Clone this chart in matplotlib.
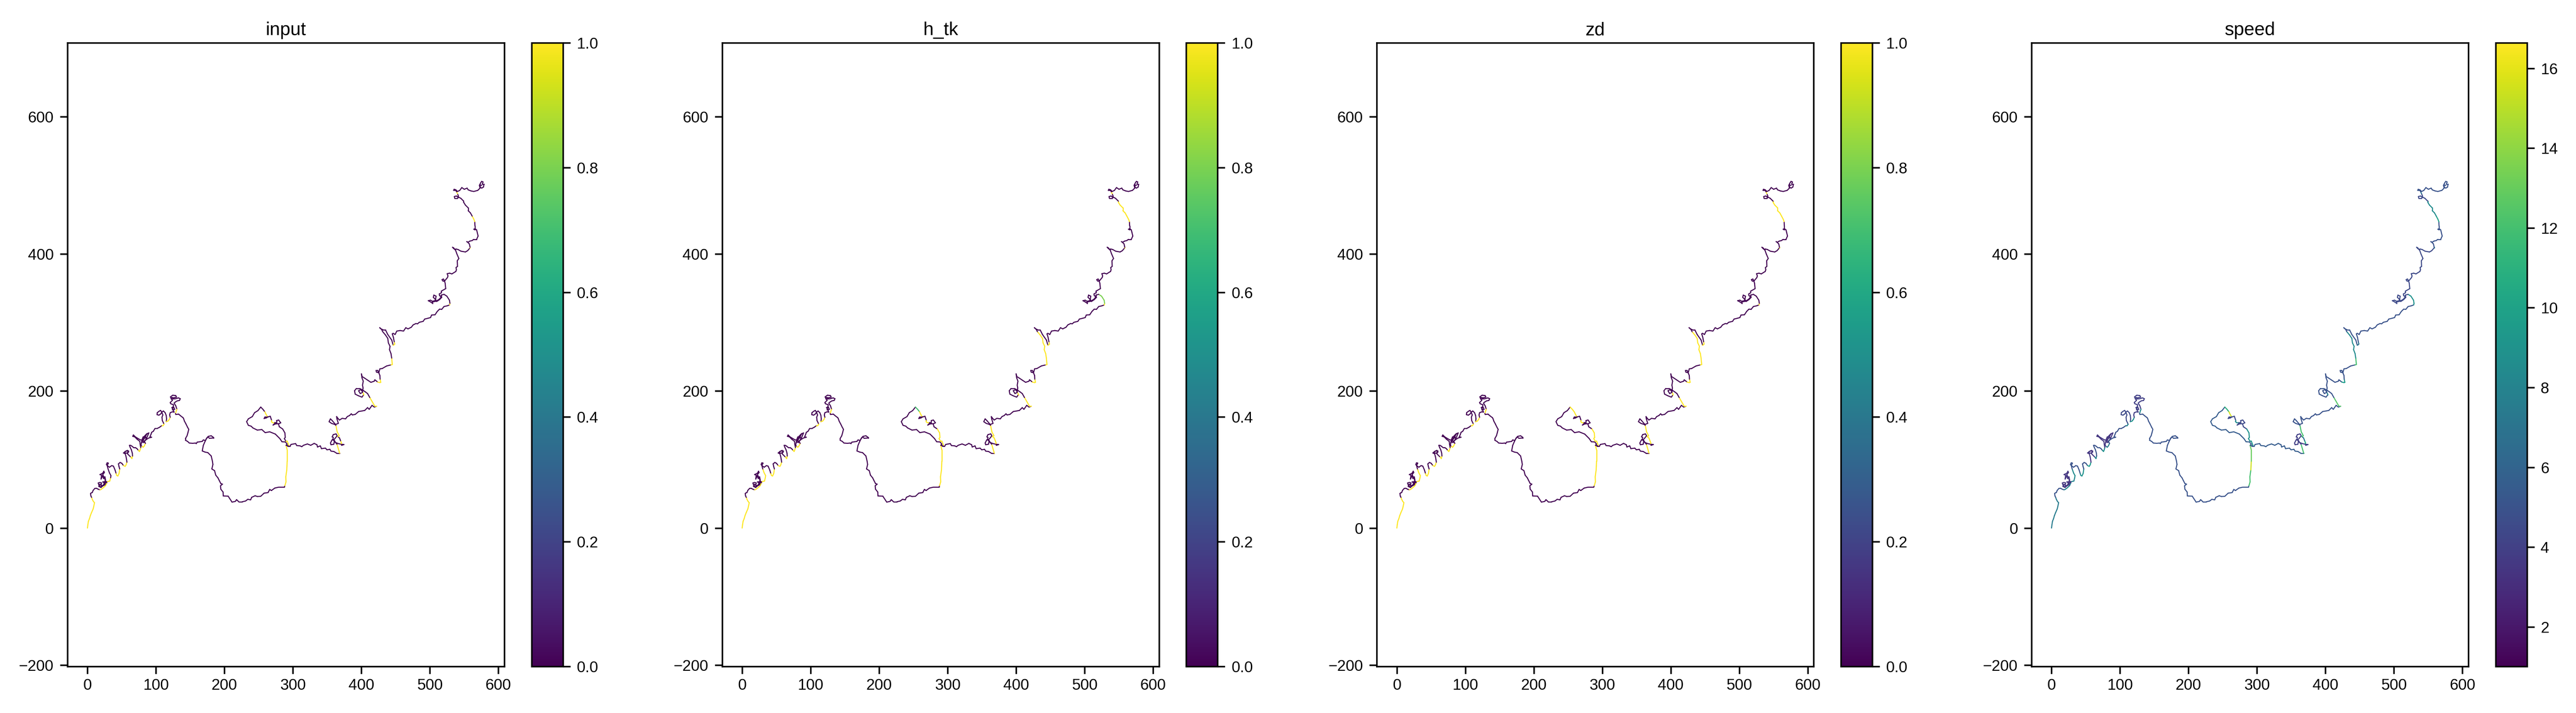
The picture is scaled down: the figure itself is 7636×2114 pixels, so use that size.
#!/usr/bin/env python3
"""Track coloured by signal: input, h_tk, zd flags and speed, one panel each."""

import matplotlib
matplotlib.use("Agg")
import matplotlib.pyplot as plt
import numpy as np
from matplotlib.collections import LineCollection

plt.rcParams["font.family"] = ["Liberation Sans", "DejaVu Sans"]

# Track, cut into stretches where any signal changes level.
stretch_xy = [
    # 0
    [(0,0),(0.6,4.9),(1.4,9.9),(2.9,13.6),(4.2,18.1),(5.8,22.2),(8.3,27.9),(9.1,31.2),(10.3,36.9),(8.6,38.9),(7.0,41.9),(6.0,44.8)],
    [(5.0,46.8),(4.5,50.4),(5.8,51.4),(7,51.7),(8.3,55),(10.8,57.8),(13.2,58),(15.7,56.6),(18.2,55.8)],
    [(19.8,56.3),(23.1,58.8),(26.4,61.9),(28.3,66.2)],
    [(26.4,67.3),(22.3,61.6),(19,59.9),(16.5,63.2),(15.7,65.7),(18.2,66.5),(20.6,65.7),(19.8,62.4),(23.1,62.4),(24.7,65.7),(22.3,67.3),(27.2,67.8),(25.5,63.2),(21.4,60.8),(18.2,64),(16.5,60.8),(19.8,59.1),(23.9,63.2),(26.4,69.8),(25.5,74.7),(23.4,72.2),(22.3,76.4),(19.8,71.4),(20.6,77.2),(18.2,78),(22.3,80),(23.9,82.9),(24.7,81),(22.3,78),(25.5,71.4),(26.4,67.3),(29.2,67.8)],
    [(30.5,68.1),(32.6,68.5),(33.8,73.4)],
    # 5
    [(34.3,76.4),(32.1,80.5),(30.1,86.2)],
    [(28.8,91.1),(27.7,92.8),(28.8,95.2),(30.5,94.7),(28.8,91.1),(32.1,88.7),(35.4,91.1),(37.9,90.3),(40.3,84.6),(41.9,79.3)],
    [(42.8,76.7),(44.4,75.9),(46.1,79.6),(47.1,86.2)],
    [(46.1,89.5),(45.2,93.6),(47.7,95.7),(50.2,94.4),(52.6,91.1)],
    [(55.1,90),(56.3,92),(57.6,96.1)],
    # 10
    [(57.2,99.3),(56.3,104.3),(55.1,108.4),(52.6,109.5),(55.1,111.7),(58.4,113.3),(60,110.8),(56.7,109.2),(53.5,110),(56.7,112.5),(60,112.5),(58.4,108.4),(60,106.7),(63.3,103.4)],
    [(64.9,101.3),(65.8,105.1)],
    [(65.5,109.2),(64.1,114.1),(62.5,117.4),(61.2,120.7),(62.8,120.7),(65,119.4),(67.4,117.4),(69.9,117.4),(72.3,115.8),(74.3,113.3)],
    [(75.9,111.7),(76.9,114.1),(77.8,117.4)],
    [(76.9,122.3),(76.5,126.4),(72.3,129.7),(69.1,133),(66.1,133.8),(67.1,135.8),(69.9,133),(74,130.5),(77.3,128.6),(80.6,128.1),(83.9,132.2),(81.3,133),(79.7,128.9),(82.2,126.4),(85.5,128.9),(89.6,138.8),(86.3,137.1),(83,133.8),(80.6,130.5),(78.9,125.6),(82.2,124.8),(85.5,129.7),(84.7,135.5),(87.1,137.9),(83,130.5),(78.9,124.8),(78.1,120.7),(79.7,119)],
    # 15
    [(81.4,117.9),(83,119.9),(84.7,123.5)],
    [(83,126.4),(85.5,128.9),(89.6,131.4),(93.7,132.5),(91.2,133),(92.9,137.1),(93.7,139.6),(96.2,141.2),(98.6,145.3),(101.9,145.3),(105.2,147),(108.5,149.4)],
    [(110.1,149.4),(111.8,151.1),(111.3,152.7)],
    [(109.3,156.8),(108.8,161.7),(110.1,165),(108.5,169.1),(106.8,171.6),(104.4,170.3),(101.9,168.3),(101.6,165.4),(104.4,164.7),(107.2,166.7),(108.5,169.1),(110.9,170.8),(113.4,168.3),(115,164.2),(115.5,159.3),(115,155.2)],
    [(117.5,156),(119.5,158.5),(120.8,161.7)],
    # 20
    [(120,165),(120.8,168.3),(124.1,169.6),(126.5,169.1),(124.9,173.2),(123.2,175.7),(125.7,176.8),(127.4,173.2),(124.1,172.4),(125.7,179.8),(121.6,181.4),(120.8,183.1),(124.1,186.4),(122.4,188.3),(121.2,191.4),(124.5,193.8),(128.9,193.3),(130,191),(126,190),(123,190.5),(124.5,188.4),(128,188.5),(132.9,189.9),(135.5,188.7),(134.4,186.2),(131,185.5),(128.5,184),(126.5,182.3),(129,178.2),(130.6,173.2)],
    [(129.8,171.3),(128.5,167)],
    [(129,165.7),(133.1,166.2),(136.4,163.4),(139.7,160.9),(140.5,159.3),(141.6,156),(143.8,151.9),(146.2,147),(147.9,144),(146.6,138.8),(145.4,134.6),(143,130.5),(143,128.1),(146.2,126.4),(148.7,124),(153.6,123.6),(157.7,124),(158.9,123.2),(160.2,125.3),(164.3,125.9),(167.6,126.4),(169.2,128.6),(172.2,127.6),(174.2,131.4),(176.6,133.8),(180.7,134.6),(184,132.2),(184,131.4),(178.2,130.9),(175.8,133),(173.3,129.7),(171.7,126.4),(169.2,120.7),(167.6,112.5),(171.7,110.8),(175.8,110),(180.7,105.1),(182.4,97.7),(183.2,92.8),(181.6,86.2),(185.6,83.7),(187.3,77.2),(190.6,73.1),(192.2,69.8),(194.7,64.9),(197.1,64),(194.2,61.6),(194.7,56.7),(198,52.5),(198.3,46.8),(205.4,46.5),(211.1,37.8),(216,38.9),(217.7,41.4),(221,38.3),(225.9,38.3),(230.8,39.4),(234.1,41.9),(238.2,41.1),(239.8,44.8),(244.8,47.1),(248,46),(253,46.3),(257.9,50.9),(263.7,51.7),(266.1,56.3),(268.6,54.7),(273.5,58.3),(279.2,59.6),(287.5,59.6),(288.3,61.9)],
    [(289.9,67.3),(289.6,74.7),(291,84.6)],
    [(291.3,90.5),(291.6,97.7)],
    # 25
    [(291.6,114.1),(289.9,120.7)],
    [(291.6,122.3),(289.1,125.6),(284,125.9),(280.9,130.5),(276.8,134.6),(274.3,137.1),(266.1,140.4),(259.5,139.2),(254.6,143.7),(248,142.9),(241.5,146.1),(239,148.6),(234.9,149.9),(232.4,155.2),(234.9,159.3),(240.7,162.6),(244,168.3),(248.9,171.3),(253,176.5)],
    [(256.2,173.2),(259,169.6)],
    [(261.2,165),(263.3,162.1)],
    [(261.2,160.7),(257.9,159.8),(259.2,162.1),(263.3,162.1),(266.9,163.1),(269,156.8)],
    # 30
    [(268.6,155.2),(270.2,153.9),(273.5,153.9)],
    [(276,153.5),(276,156.8),(279.2,157.6),(282.2,153.5),(279.2,152.2),(274.3,151.9),(271,150.2),(273.5,152.7),(279,151.9),(280.1,147.8),(285,144.5)],
    [(288.3,138.8),(288.8,132.2),(287.5,130.5),(289.9,126.4)],
    [(291.6,126.9),(294,120.7),(293.2,119.9)],
    [(290.8,120.7),(292.4,119.4),(295.7,119.4),(297.3,122),(303.9,123.2),(305.5,120.4),(310.4,119.9),(312.9,118.7),(315.4,120.7),(321.1,122.7),(326,120.7),(331,123.5),(335.1,121.5),(335.9,118.2),(340,119.9),(341.7,115.8),(347.4,116.6),(349.8,114.1),(353.9,114.9),(355.6,112.2),(359.7,111.7),(363.8,109.2),(368.2,109.2)],
    # 35
    [(364.3,122.3)],
    [(362.2,124.8),(359.7,128.9),(357.3,128.9),(354.8,124),(355.6,121.5),(359.7,122.3),(360.5,126.4),(358.4,129.7),(358.9,132.2),(357.3,133),(358.9,136.3),(363,137.4),(364.6,134.6),(361.3,130.5),(359.7,128.9),(362.2,124.8),(366.3,123.2),(370.4,122.3),(374.5,121.8),(371.2,120.7),(370.4,123.2)],
    [(370.9,124),(369.6,127.3)],
    [(368,131.4),(365.4,133.5)],
    [(367.6,134.6),(364.6,140.4),(362.7,149.9)],
    # 40
    [(361.3,151.1),(356.4,152.7),(352.8,155.2),(354.8,159.3),(357.3,156.8),(362.2,151.1),(366.3,152.7),(364.3,159.3),(363.8,162.6),(366.3,159.3),(368,157.6),(372,160.1),(376.9,159.3),(379.4,162.6),(382.7,164.2),(385.2,166.7),(386.8,165),(391,165.8),(395.9,170),(400.8,170.8),(404.9,171.6),(409,175.7),(411.4,173.2),(415.5,179),(418.8,176.5),(422.1,177.7)],
    [(419.6,177.7),(412.2,190.5)],
    [(409,196.2),(405.7,198.7),(401.6,201.5),(397.5,203.6),(392.6,203.6),(390,200.3),(390.9,195.4),(395.9,192.9),(400.8,191),(403.2,194.3)],
    [(403.2,195.4),(401.6,198.7)],
    [(399.1,202),(395.9,200.3),(398.3,196.2),(401.6,197.9),(402.4,204.4),(401.6,208.5),(402.7,214.3),(400.8,219.2),(400,225),(401.1,220.9),(404,219.2),(408.9,215.9),(413.9,212.6),(418.8,214.3),(419.6,216.3),(423.8,213)],
    # 45
    [(427,212.2),(428.3,212.6),(427.3,217.2)],
    [(427,222.5),(425.4,226.6),(422.1,227.4),(421.3,229.9),(423.8,229.9),(425.4,226.6),(427,232.3),(430.3,232.7),(436.9,236.5),(443.4,238.1)],
    [(445.1,238.6),(444.2,248)],
    [(443.2,254.5),(441,260.3),(441.8,265.2),(439.4,270.1),(438.5,276.7),(435.2,281.6),(431.1,286.5)],
    [(429.5,289.8),(426.7,292.3),(428.7,290.6),(432,289),(435.2,289),(438.5,282.4),(444.3,274.2),(446.4,266.8)],
    # 50
    [(447.5,267.2),(448.7,268.5),(447.9,271.8)],
    [(446.7,278.3),(445.1,283.3),(446.4,284.1),(449.2,282.4),(451.7,287.4),(456.6,288.2),(461.5,287.4),(464.8,292.3),(468.1,290.6),(473,293.1),(475.5,296.4),(479.6,298.4),(482,298),(484.5,300.2),(490.2,301.6),(492.4,304.9),(497.6,306.2),(500.9,307.1),(502.5,310.8),(507.5,311.2),(510.8,316.1),(514.1,319.4),(517.3,319.1),(520.6,323.2),(525.5,324.3),(528.8,325.6)],
    [(529.3,327.9)],
    [(528.5,332.5),(524.8,338.3),(520.6,341)],
    [(516.5,339.9),(516.8,338.8),(517.3,336.6),(514.1,333.3),(510,330.6),(508.3,333.4),(505,336.6),(505.8,339.9),(509.1,338.3),(508.3,334.2),(507.5,331.7),(503.4,330.9),(500.9,332.5),(497.6,331.7),(500.9,330),(504.2,327.6),(503.8,330),(509.1,330.9),(514.1,334.2),(516.5,337.4),(514.1,339.1),(513.7,341.5),(516.5,343.2),(516.5,345.6),(523.1,349.3),(522.3,357.1),(521.4,360.4),(519,360.4),(517.7,362.4),(519.8,363.4),(521.4,360.4),(525.6,365.4),(526.4,367.8),(525.2,371.1),(528.8,371.9),(532.1,370.8),(537.9,374.4),(538.7,376.8),(538.2,380.1),(540.3,381.8),(540,390),(542.3,393.3),(539.5,399.8),(537.4,405.6),(534.6,408),(533,409.7),(534.6,408.9),(537.4,405.6),(537.9,407.2),(541.1,406.4),(545.3,404),(551.8,402.8),(555.1,404.7),(558.7,408.9)],
    # 55
    [(558.7,409.7)],
    [(557.6,414.6),(555.1,417.1),(553.8,417.9),(555.9,417.1),(558.4,418.7),(561.7,419.5),(564,421.2),(568.2,421.2),(570.4,426.1),(569,431.9),(568.2,435.1),(565.8,436.8),(564.1,436),(565.8,435.1),(565.8,440.9),(565.5,447.1)],
    [(564.1,450.7),(561.7,455.2)],
    [(559.2,459.8),(555.9,463.1),(555.9,467.2),(551.8,471.3),(549.3,475.4),(549.3,477)],
    [(545.2,481.1),(541.9,482.8),(540.3,481.1),(536.2,481.1),(535.7,483.7),(538.7,484.5),(541.1,482.8),(541.6,484.5),(540.3,487.8)],
    # 60
    [(539,490.6)],
    [(537.9,492.7),(534.6,492.7),(535.4,494.3),(537.9,493.5),(540.3,491.1),(543.6,492.7),(546.6,496.8),(550.2,494.3),(554.3,496),(555.9,493.5),(560,491.9),(564.1,491.1),(569.9,492.7),(573.2,496),(572.3,500.1),(574,503.4),(575.6,505.8),(577.6,505),(576.5,501.6),(579,501.6),(578.2,497.5),(575.6,496),(573.2,497.5),(573.2,500.8),(575.6,500)],
]

# One level per stretch
input_level = [1,0,1,0,1, 0,0,1,0,1, 0,1,0,1,0, 1,0,1,0,1, 0,1,0,1,1, 1,0,0,1,0, 1,0,0,1,0,
               1,0,1,0,1, 0,1,0,1,0, 1,0,1,0,0, 1,0,1,0,0, 1,0,1,0,0, 1,0]
h_tk_level  = [1,0,1,0,1, 1,0,1,0,1, 0,1,0,1,0, 1,0,1,0,1, 0,1,0,1,1, 1,0,0.7,1,0, 1,0,1,1,0,
               1,0,1,1,1, 0,1,0,1,0, 1,0,1,1,0, 1,0,1,0.8,0, 1,0,1,1,0, 1,0]
zd_level    = [1,0,1,0,1, 1,0,1,0,1, 0,1,0,1,0, 1,0,1,0,1, 0,1,0,1,1, 1,0,1,1,0, 1,0,1,1,0,
               1,0,1,1,1, 0,1,0,1,0, 1,0,1,1,0, 1,0,1,0,0, 1,0,1,1,0, 1,0]
speed_level = [7.5,5,8,3.5,8, 8.5,5,9,5,9.5, 3.5,8,5,9,3.5, 7.5,5,8,4.5,9, 4,8.5,5,12,15.5,
               13,5.5,11,15.5,4.5, 8.5,4.5,9,9,5.5, 12,4,10.5,7,12, 5,12.5,5,8,5,
               9.5,5,12,8.5,5, 7,5,9,9,4.5, 8,5,10,8.5,4.5, 7,5]

panel_titles = ["input", "h_tk", "zd", "speed"]
panel_levels = [input_level, h_tk_level, zd_level, speed_level]
panel_limits = [(0.0, 1.0), (0.0, 1.0), (0.0, 1.0), (1.01, 16.64)]
x_ticks = [0, 100, 200, 300, 400, 500, 600]
y_ticks = [-200, 0, 200, 400, 600]

W, H = 7636, 2114
fig = plt.figure(figsize=(W / 300, H / 300), dpi=300)

pts = np.array([p for part in stretch_xy for p in part], dtype=float)
segs = np.stack([pts[:-1], pts[1:]], axis=1)


def to_fig(left, top, width, height):
    return [left / W, 1 - (top + height) / H, width / W, height / H]


for i, (title, levels, lim) in enumerate(zip(panel_titles, panel_levels, panel_limits)):
    vals = np.concatenate([[lv] * len(part) for lv, part in zip(levels, stretch_xy)])

    left = 200 + i * 1940.7
    ax = fig.add_axes(to_fig(left, 127, 1295, 1849))
    lc = LineCollection(segs, cmap="viridis", linewidths=0.75, capstyle="round")
    lc.set_array(vals[1:].astype(float))
    lc.set_clim(*lim)
    ax.add_collection(lc)
    ax.set_xlim(-29.2, 608.7)
    ax.set_ylim(-202, 708)
    ax.set_xticks(x_ticks)
    ax.set_yticks(y_ticks)
    ax.tick_params(labelsize=11, length=5.3, width=1.1)
    ax.tick_params(axis="x", pad=3)
    ax.tick_params(axis="y", pad=4.5)
    ax.set_title(title, fontsize=13.2, pad=5.5)
    for sp in ax.spines.values():
        sp.set_linewidth(1.1)

    cax = fig.add_axes(to_fig(left + 1295 + 80.5, 127, 93, 1849))
    cbar = fig.colorbar(lc, cax=cax)
    cbar.ax.tick_params(labelsize=11, length=5.3, width=1.1, pad=4.5)
    cbar.outline.set_linewidth(1.1)
    if i == 3:
        cbar.set_ticks([2, 4, 6, 8, 10, 12, 14, 16])
    else:
        cbar.set_ticks([0.0, 0.2, 0.4, 0.6, 0.8, 1.0])

fig.savefig("out.png", dpi=300)
